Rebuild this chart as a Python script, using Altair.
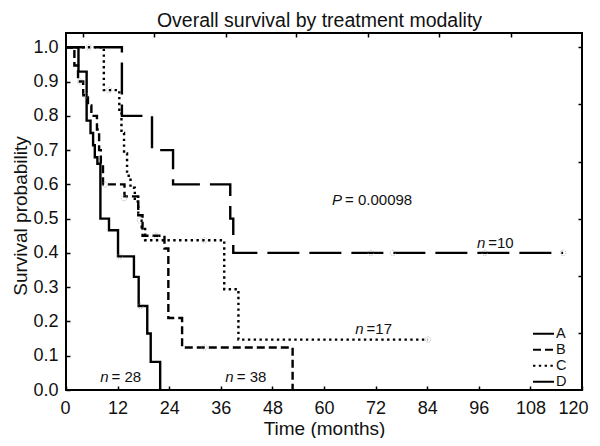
import altair as alt
import pandas as pd

# ---------------- data ----------------
series_names = ["A", "B", "C", "D"]

a_time = [0, 2.9, 4.8, 5.7, 6.3, 6.7, 7.3, 8.0, 10.0, 12.1, 15.8, 16.9, 18.9, 19.7, 21.9]
a_surv = [1.0, 0.929, 0.786, 0.75, 0.714, 0.679, 0.66, 0.50, 0.466, 0.39, 0.33, 0.245, 0.165, 0.082, 0.0]

b_time = [0, 1.95, 2.8, 4.0, 5.1, 5.9, 7.2, 7.7, 8.1, 8.6, 13.6, 16.8, 17.8, 22.9, 23.8, 27.0, 52.7]
b_surv = [1.0, 0.947, 0.90, 0.86, 0.83, 0.80, 0.76, 0.70, 0.66, 0.60, 0.565, 0.51, 0.45, 0.413, 0.21, 0.124, 0.0]

c_time = [0, 8.8, 12.4, 12.9, 13.5, 14.2, 15.0, 16.0, 16.8, 17.6, 18.4, 36.8, 40.1, 84.2]
c_surv = [1.0, 0.875, 0.81, 0.75, 0.69, 0.625, 0.59, 0.55, 0.51, 0.475, 0.437, 0.294, 0.147, 0.147]

d_time = [0, 13.0, 20.0, 24.9, 38.2, 38.9, 115.6]
d_surv = [1.0, 0.8, 0.7, 0.6, 0.5, 0.4, 0.4]

cens_time = [5.3, 10.0, 3.3, 4.5, 9.1, 13.5, 17.2, 20.9, 32.2, 32.2, 84.2, 12.5, 17.3, 70.9, 76.0, 97.4, 115.6]
cens_surv = [1.0, 0.875, 0.90, 0.86, 0.60, 0.56, 0.495, 0.45, 0.437, 0.124, 0.147, 0.39, 0.245, 0.4, 0.4, 0.4, 0.4]

x_ticks = [0, 12, 24, 36, 48, 60, 72, 84, 96, 108, 120]
y_ticks = [0.0, 0.1, 0.2, 0.3, 0.4, 0.5, 0.6, 0.7, 0.8, 0.9, 1.0]
top_ticks = [3.9, 20.5, 37.1, 53.6, 70.2, 86.8, 103.4]
right_ticks = [1 / 6, 2 / 6, 3 / 6, 4 / 6, 5 / 6, 1.0]

ann_lead = ["P", "n", "n", "n", "n"]
ann_rest = ["= 0.00098", "= 28", "= 38", "=17", "=10"]
ann_time = [64.2, 9.9, 39.0, 69.2, 97.5]
ann_surv = [0.541, 0.022, 0.022, 0.163, 0.415]

title_text = "Overall survival by treatment modality"
x_title = "Time (months)"
y_title = "Survival probability"

# ---------------- tables ----------------
rows = []
for name, ts, ss in zip(series_names,
                        [a_time, b_time, c_time, d_time],
                        [a_surv, b_surv, c_surv, d_surv]):
    for i, (t, s) in enumerate(zip(ts, ss)):
        rows.append({"series": name, "time": t, "surv": s, "idx": i})
curve_df = pd.DataFrame(rows)
cens_df = pd.DataFrame({"time": cens_time, "surv": cens_surv})
ann_df = pd.DataFrame({"lead": ann_lead, "rest": ann_rest, "time": ann_time, "surv": ann_surv})

# ---------------- styling ----------------
FONT = "Liberation Sans"
INK = "#111111"
W, H = 516, 357
dashes = [[1, 0], [8, 4], [2.4, 3.4], [32, 10]]

xs = alt.Scale(domain=[0, 120], nice=False, zero=False)
ys = alt.Scale(domain=[0, 1.0417], nice=False, zero=False)

tick_common = dict(labels=False, domain=False, grid=False, ticks=True, tickSize=4,
                   tickWidth=1.5, tickColor="black")

lines = alt.Chart(curve_df).mark_line(
    interpolate="step-after", color="black", strokeWidth=2.4, strokeCap="butt",
    strokeDashOffset=13
).encode(
    x=alt.X("time:Q", scale=xs, axis=alt.Axis(
        orient="bottom", values=x_ticks, ticks=False, tickSize=0, domain=False, grid=False,
        labelFontSize=18, labelFont=FONT, labelColor=INK, labelPadding=9.5,
        labelFlush=True, labelFlushOffset=6,
        title=x_title, titleFontSize=19, titleFont=FONT, titleFontWeight="normal",
        titleColor=INK, titleX=W / 2, titleY=44, titleBaseline="alphabetic")),
    y=alt.Y("surv:Q", scale=ys, axis=alt.Axis(
        orient="left", values=y_ticks, format=".1f", ticks=False, tickSize=0, domain=False,
        grid=False, labelFontSize=18, labelFont=FONT, labelColor=INK, labelPadding=8,
        title=y_title, titleFontSize=19, titleFont=FONT, titleFontWeight="normal",
        titleColor=INK, titleX=-46, titleY=H / 2 + 4, titleBaseline="middle")),
    strokeDash=alt.StrokeDash("series:N", scale=alt.Scale(domain=series_names, range=dashes),
                              legend=alt.Legend(
                                  orient="none", legendX=466, legendY=293, title=None,
                                  symbolType="stroke", symbolSize=441, symbolStrokeWidth=2,
                                  symbolStrokeColor="black", labelFontSize=14.5,
                                  labelFont=FONT, labelColor=INK, labelOffset=1,
                                  clipHeight=15.5, rowPadding=-3.1, padding=0)),
    order=alt.Order("idx:Q"),
)

cens = alt.Chart(cens_df).mark_point(
    shape="circle", filled=False, size=30, color="#9a9a9a", strokeWidth=1,
    strokeDash=[1.2, 1.2]
).encode(
    x=alt.X("time:Q", scale=xs, axis=None),
    y=alt.Y("surv:Q", scale=ys, axis=None),
)

ann_lead_layer = alt.Chart(ann_df).mark_text(
    align="right", baseline="alphabetic", fontStyle="italic", fontSize=15, font=FONT, color=INK
).encode(
    x=alt.X("time:Q", scale=xs, axis=None),
    y=alt.Y("surv:Q", scale=ys, axis=None),
    text="lead:N",
)
ann_rest_layer = alt.Chart(ann_df).mark_text(
    align="left", baseline="alphabetic", fontSize=15, font=FONT, color=INK, dx=3
).encode(
    x=alt.X("time:Q", scale=xs, axis=None),
    y=alt.Y("surv:Q", scale=ys, axis=None),
    text="rest:N",
)

# inward ticks on bottom / left
ticks_in_a = alt.Chart(curve_df).mark_point(opacity=0).encode(
    x=alt.X("time:Q", scale=xs, axis=alt.Axis(orient="top", offset=-H, values=x_ticks,
                                              title=None, **tick_common)),
    y=alt.Y("surv:Q", scale=ys, axis=alt.Axis(orient="right", offset=-W, values=y_ticks,
                                              title=None, **tick_common)),
)
# inward ticks on top / right, plus the chart heading above the frame
ticks_in_b = alt.Chart(curve_df).mark_point(opacity=0).encode(
    x=alt.X("time:Q", scale=xs, axis=alt.Axis(
        orient="bottom", offset=-H, values=top_ticks,
        title=title_text, titleFontSize=19.5, titleFont=FONT, titleFontWeight="normal",
        titleColor=INK, titleX=W / 2 - 5, titleY=-7, titleBaseline="alphabetic",
        titleAngle=0, **tick_common)),
    y=alt.Y("surv:Q", scale=ys, axis=alt.Axis(orient="left", offset=-W, values=right_ticks,
                                              title=None, **tick_common)),
)

chart = alt.layer(
    lines, cens, ann_lead_layer, ann_rest_layer, ticks_in_a, ticks_in_b
).resolve_axis(
    x="independent", y="independent"
).properties(
    width=W, height=H,
    padding={"left": 58, "top": 25, "right": 10, "bottom": 48},
    autosize=alt.AutoSizeParams(type="none"),
).configure_view(
    stroke="black", strokeWidth=2
)

chart.save("out.html", embed_options={"renderer": "svg", "actions": False})
